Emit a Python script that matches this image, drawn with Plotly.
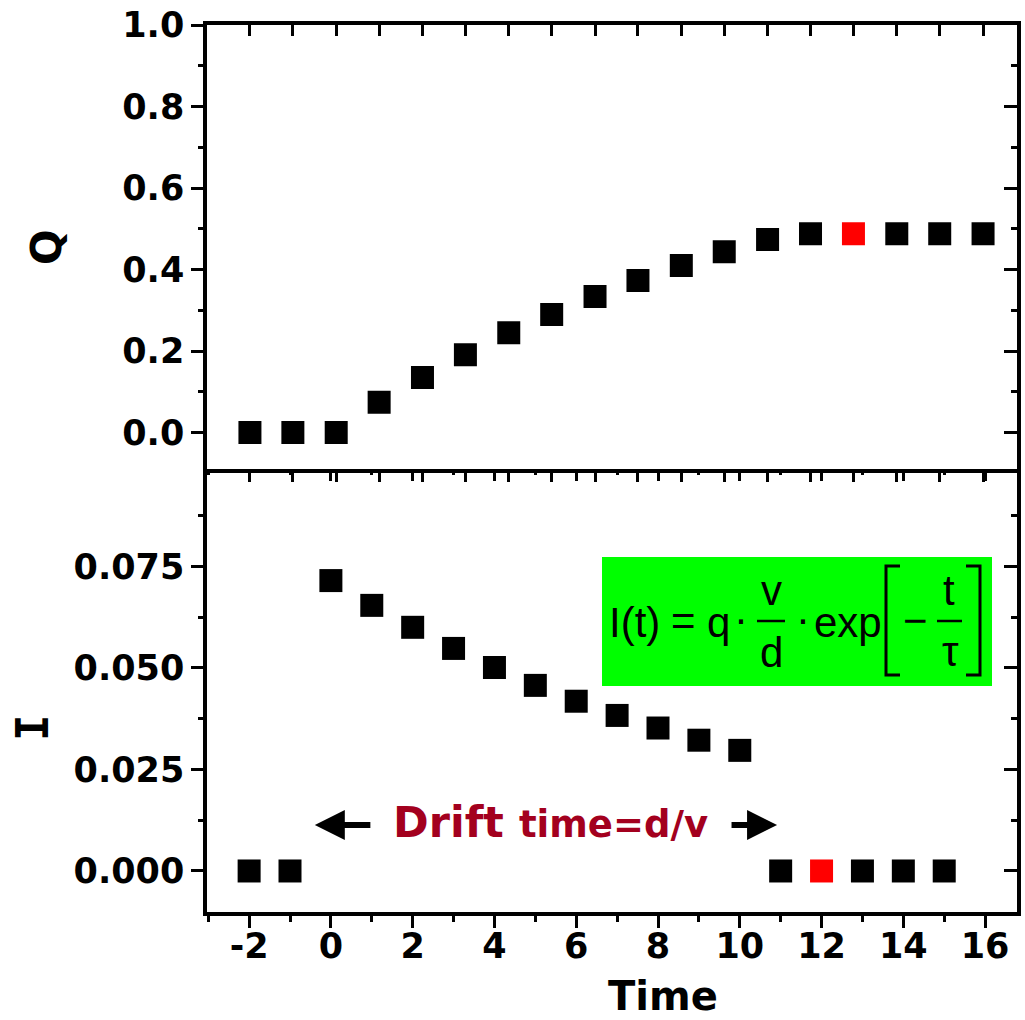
import plotly.graph_objects as go

# ---------------- data ----------------
t_Q = [-1.98, -0.93, 0.13, 1.18, 2.24, 3.29, 4.35, 5.40, 6.46, 7.51,
       8.57, 9.62, 10.68, 11.73, 12.78, 13.84, 14.89, 15.95]
Q = [0.0, 0.0, 0.0, 0.074, 0.135, 0.191, 0.245, 0.290, 0.334, 0.373,
     0.410, 0.444, 0.474, 0.488, 0.488, 0.488, 0.488, 0.488]
q_red_index = 14

t_I = [-2, -1, 0, 1, 2, 3, 4, 5, 6, 7, 8, 9, 10, 11, 12, 13, 14, 15]
I = [0.0, 0.0, 0.0715, 0.0654, 0.0600, 0.0548, 0.0501, 0.0457, 0.0418,
     0.0383, 0.0352, 0.0322, 0.0297, 0.0, 0.0, 0.0, 0.0, 0.0]
i_red_index = 14

x_ticks = [-2, 0, 2, 4, 6, 8, 10, 12, 14, 16]
x_tick_labels = ["-2", "0", "2", "4", "6", "8", "10", "12", "14", "16"]
x_minor_ticks = [-3, -1, 1, 3, 5, 7, 9, 11, 13, 15]
q_ticks = [0.0, 0.2, 0.4, 0.6, 0.8, 1.0]
q_tick_labels = ["0.0", "0.2", "0.4", "0.6", "0.8", "1.0"]
q_minor_ticks = [0.1, 0.3, 0.5, 0.7, 0.9]
i_ticks = [0.0, 0.025, 0.05, 0.075]
i_tick_labels = ["0.000", "0.025", "0.050", "0.075"]
i_minor_ticks = [0.0125, 0.0375, 0.0625, 0.0875]

X_RANGE = [-3.03, 16.78]
Q_RANGE = [-0.0884, 1.0005]
I_RANGE = [-0.0101, 0.0991]

BLACK = "#000000"
RED = "#FF0000"
DRIFT_COLOR = "#A3001E"
GREEN = "#00FF00"

q_colors = [RED if k == q_red_index else BLACK for k in range(len(Q))]
i_colors = [RED if k == i_red_index else BLACK for k in range(len(I))]

# ---------------- layout helpers (pixel -> paper) ----------------
W, H = 1025, 1020
L, R, T, B = 207, 1017, 25, 912


def px(x):
    return (x - L) / (R - L)


def py(y):
    return (B - y) / (B - T)


TICKFONT = dict(family="DejaVu Sans", size=35, color=BLACK, weight="bold")

fig = go.Figure()
fig.add_trace(go.Scatter(x=t_Q, y=Q, mode="markers", xaxis="x2", yaxis="y2",
                         marker=dict(symbol="square", size=23, color=q_colors),
                         showlegend=False))
fig.add_trace(go.Scatter(x=t_I, y=I, mode="markers", xaxis="x", yaxis="y",
                         marker=dict(symbol="square", size=23, color=i_colors),
                         showlegend=False))
# helper traces so that mirrored (inside) tick axes are drawn
for xa, ya in [("x3", "y"), ("x", "y3"), ("x4", "y2"), ("x2", "y4")]:
    fig.add_trace(go.Scatter(x=[None], y=[None], xaxis=xa, yaxis=ya,
                             mode="markers", showlegend=False, hoverinfo="skip"))

common = dict(showline=True, linecolor=BLACK, linewidth=3.5, showgrid=False,
              zeroline=False, tickcolor=BLACK, tickwidth=3, automargin=False)

fig.update_layout(
    width=W, height=H,
    margin=dict(l=L, r=W - R, t=T, b=H - B, autoexpand=False),
    paper_bgcolor="white", plot_bgcolor="white",
    showlegend=False,
    # bottom panel
    xaxis=dict(domain=[0, 1], anchor="y", range=X_RANGE, tickmode="array",
               tickvals=x_ticks, ticktext=x_tick_labels, ticks="outside",
               ticklen=12, tickfont=TICKFONT, ticklabelstandoff=-12,
               minor=dict(tickmode="array", tickvals=x_minor_ticks, ticks="outside",
                          ticklen=6, tickwidth=3, tickcolor=BLACK),
               **common),
    xaxis3=dict(overlaying="x", side="top", anchor="y", range=X_RANGE,
                tickmode="array", tickvals=x_ticks, ticks="inside", ticklen=12,
                showticklabels=False,
                minor=dict(tickmode="array", tickvals=x_minor_ticks, ticks="inside",
                           ticklen=6, tickwidth=3, tickcolor=BLACK),
                **{**common, "showline": False}),
    yaxis=dict(domain=[0, 0.5], anchor="x", range=I_RANGE, tickmode="array",
               tickvals=i_ticks, ticktext=i_tick_labels, ticks="outside",
               ticklen=12, tickfont=TICKFONT,
               minor=dict(tickmode="array", tickvals=i_minor_ticks, ticks="outside",
                          ticklen=5, tickwidth=3, tickcolor=BLACK),
               **common),
    yaxis3=dict(overlaying="y", side="right", anchor="x", range=I_RANGE,
                tickmode="array", tickvals=i_ticks, ticks="inside", ticklen=13,
                showticklabels=False,
                minor=dict(tickmode="array", tickvals=i_minor_ticks, ticks="inside",
                           ticklen=6, tickwidth=3, tickcolor=BLACK),
                **common),
    # top panel
    xaxis2=dict(domain=[0, 1], anchor="y2", range=X_RANGE, tickmode="array",
                tickvals=t_Q, ticks="outside", ticklen=10, showticklabels=False,
                **common),
    xaxis4=dict(overlaying="x2", side="top", anchor="y2", range=X_RANGE,
                tickmode="array", tickvals=t_Q, ticks="inside", ticklen=11,
                showticklabels=False, **common),
    yaxis2=dict(domain=[0.5, 1], anchor="x2", range=Q_RANGE, tickmode="array",
                tickvals=q_ticks, ticktext=q_tick_labels, ticks="outside",
                ticklen=12, tickfont=TICKFONT,
                minor=dict(tickmode="array", tickvals=q_minor_ticks, ticks="outside",
                           ticklen=5, tickwidth=3, tickcolor=BLACK),
                **common),
    yaxis4=dict(overlaying="y2", side="right", anchor="x2", range=Q_RANGE,
                tickmode="array", tickvals=q_ticks, ticks="inside", ticklen=13,
                showticklabels=False,
                minor=dict(tickmode="array", tickvals=q_minor_ticks, ticks="inside",
                           ticklen=6, tickwidth=3, tickcolor=BLACK),
                **common),
)

ann = []


def text(x, y, s, size, xanchor="center", family="Liberation Sans, Arial",
         color=BLACK, weight="normal", angle=0):
    ann.append(dict(x=px(x), y=py(y), xref="paper", yref="paper", text=s,
                    showarrow=False, xanchor=xanchor, yanchor="middle",
                    textangle=angle,
                    font=dict(family=family, size=size, color=color, weight=weight)))


# axis titles
text(46, 247, "Q", 42, family="DejaVu Sans", weight="bold", angle=-90)
text(32, 728, "I", 44, family="DejaVu Sans Mono", weight="bold", angle=-90)
text(663, 996, "Time", 40, family="DejaVu Sans", weight="bold")

# drift annotation
text(550, 822, "Drift <span style='font-size:37px'>time=d/v</span>", 43,
     family="DejaVu Sans", weight="bold", color=DRIFT_COLOR)


def tx(p):
    return -2 + (p - 249.3) / 40.87


def iy(p):
    return (871 - p) / 4068


for head, tail in [(315, 372), (777, 730)]:
    ann.append(dict(x=tx(head), y=iy(825), ax=tx(tail), ay=iy(825),
                    xref="x", yref="y", axref="x", ayref="y", text="",
                    showarrow=True, arrowhead=2, arrowsize=1.0, arrowwidth=6,
                    arrowcolor=BLACK, standoff=0, startstandoff=0))

# formula
FS = 42
text(607, 622, "I(t)", FS, xanchor="left")
text(683, 620, "=", FS)
text(718, 622, "q", FS)
text(741, 618, "·", FS)
text(771, 590, "v", FS)
text(771, 652, "d", FS)
text(803, 618, "·", FS)
text(812, 622, "exp", FS, xanchor="left")
text(915, 620, "−", FS)
text(949, 590, "t", FS)
text(950, 651, "τ", FS)

shapes = [
    dict(type="rect", xref="paper", yref="paper", x0=px(602), x1=px(992),
         y0=py(686), y1=py(557), fillcolor=GREEN, line=dict(width=0), layer="above"),
    dict(type="line", xref="paper", yref="paper", x0=px(757), x1=px(785),
         y0=py(621), y1=py(621), line=dict(color=BLACK, width=2.5), layer="above"),
    dict(type="line", xref="paper", yref="paper", x0=px(937), x1=px(962),
         y0=py(621), y1=py(621), line=dict(color=BLACK, width=2.5), layer="above"),
    dict(type="path", xref="paper", yref="paper",
         path=f"M {px(900)},{py(566)} L {px(886)},{py(566)} L {px(886)},{py(675)} L {px(900)},{py(675)}",
         line=dict(color=BLACK, width=3), layer="above"),
    dict(type="path", xref="paper", yref="paper",
         path=f"M {px(966)},{py(566)} L {px(980)},{py(566)} L {px(980)},{py(675)} L {px(966)},{py(675)}",
         line=dict(color=BLACK, width=3), layer="above"),
]

fig.update_layout(annotations=ann, shapes=shapes)
fig.write_html(
    "out.html",
    config={"displayModeBar": False},
    post_script="document.body.style.margin='0px';document.body.style.overflow='hidden';",
)
